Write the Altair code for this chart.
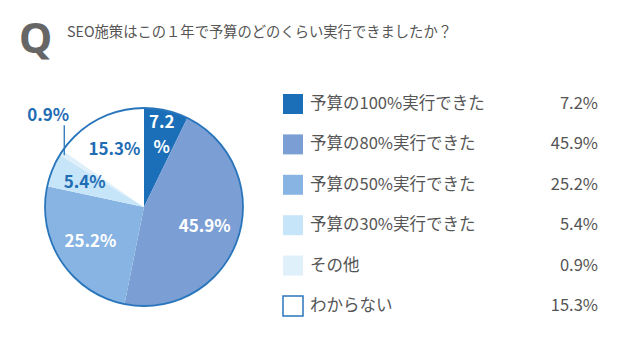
import altair as alt
import pandas as pd

categories = ["予算の100%実行できた", "予算の80%実行できた", "予算の50%実行できた",
              "予算の30%実行できた", "その他", "わからない"]
values = [7.2, 45.9, 25.2, 5.4, 0.9, 15.3]
value_labels = ["7.2%", "45.9%", "25.2%", "5.4%", "0.9%", "15.3%"]
pie_labels = ["7.2\n%", "45.9%", "25.2%", "5.4%", "", "15.3%"]
colors = ["#1A6FB8", "#7B9FD4", "#88B4E4", "#C7E5F8", "#DFF0FB", "#FFFFFF"]
label_colors = ["#FFFFFF", "#FFFFFF", "#FFFFFF", "#1F6DB4", "#1F6DB4", "#1F6DB4"]
title_text = "SEO施策はこの１年で予算のどのくらい実行できましたか？"

df = pd.DataFrame({
    "cat": categories, "value": values, "vlabel": value_labels,
    "plabel": pie_labels, "lcolor": label_colors, "order": list(range(6)),
})

FONT = "Noto Sans CJK JP"
CX, CY, R = 136, 199, 99
BLUE = "#2A76BC"
LEG_TOP, LEG_STEP = 96, 40.4

base = alt.Chart(df)
color_scale = alt.Scale(domain=categories, range=colors)

pie = base.mark_arc(outerRadius=R).encode(
    theta=alt.Theta("value:Q", stack=True),
    color=alt.Color("cat:N", scale=color_scale, legend=None),
    order=alt.Order("order:Q"),
    x=alt.value(CX), y=alt.value(CY),
)

ring = alt.Chart(pd.DataFrame({"a": [0]})).mark_arc(
    outerRadius=R, fillOpacity=0, stroke=BLUE, strokeWidth=1.8
).encode(theta=alt.value(0), theta2=alt.value(6.2832),
         x=alt.value(CX), y=alt.value(CY))

plabels = base.transform_calculate(
    t="datum.order == 0 ? '' : datum.plabel"
).mark_text(font=FONT, fontSize=17, fontWeight="bold", radius=64).encode(
    theta=alt.Theta("value:Q", stack=True),
    order=alt.Order("order:Q"),
    text="t:N",
    color=alt.Color("lcolor:N", scale=None),
    x=alt.value(CX), y=alt.value(CY),
)
plabel0 = base.transform_calculate(
    t="datum.order == 0 ? datum.plabel : ''"
).mark_text(font=FONT, fontSize=17, fontWeight="bold", lineBreak="\n",
            lineHeight=25, radius=70, dy=-16, dx=2).encode(
    theta=alt.Theta("value:Q", stack=True),
    order=alt.Order("order:Q"),
    text="t:N",
    color=alt.Color("lcolor:N", scale=None),
    x=alt.value(CX), y=alt.value(CY),
)

calc = base.transform_window(
    cum="sum(value)", sort=[alt.SortField("order")]
).transform_calculate(
    a="(datum.cum - datum.value/2) / 100 * 2 * PI",
).transform_calculate(
    px=f"{CX} + 95*sin(datum.a)",
    py=f"{CY} - 95*cos(datum.a)",
).transform_calculate(
    py2="datum.py - 30", tx="datum.px - 16", ty="datum.py - 33",
).transform_filter("datum.cat == 'その他'")

leader = calc.mark_rule(color=BLUE, strokeWidth=1.3).encode(
    x=alt.X("px:Q", scale=None), y=alt.Y("py:Q", scale=None), y2="py2:Q")
outlabel = calc.mark_text(font=FONT, fontSize=17, fontWeight="bold",
                          color="#1F6DB4", baseline="bottom", dy=3).encode(
    x=alt.X("tx:Q", scale=None), y=alt.Y("ty:Q", scale=None), text="vlabel:N")

leg = base.transform_calculate(ly=f"{LEG_TOP} + datum.order * {LEG_STEP}")
ly = alt.Y("ly:Q", scale=None)

squares = leg.mark_point(shape="square", size=400, filled=True, opacity=1,
                         strokeWidth=1.5).encode(
    x=alt.value(285), y=ly,
    fill=alt.Color("cat:N", scale=color_scale, legend=None),
    stroke=alt.condition("datum.cat == 'わからない'", alt.value(BLUE), alt.value("transparent")),
)
ltext = leg.mark_text(font=FONT, fontSize=16.5, align="left", color="#555555").encode(
    x=alt.value(302), y=ly, text="cat:N")
vtext = leg.mark_text(font=FONT, fontSize=16.5, align="right", color="#555555").encode(
    x=alt.value(590), y=ly, text="vlabel:N")

tdf = pd.DataFrame({"q": ["Q"], "t": [title_text]})
qmark = alt.Chart(tdf).mark_text(font="Noto Sans", fontSize=42, fontWeight="bold",
                                 color="#666666", align="left", baseline="alphabetic").encode(
    x=alt.value(11), y=alt.value(45), text="q:N")
tmark = alt.Chart(tdf).mark_text(font=FONT, fontSize=14.3, color="#555555",
                                 align="left", baseline="middle").encode(
    x=alt.value(59), y=alt.value(25), text="t:N")

chart = alt.layer(pie, ring, plabels, plabel0, leader, outlabel, squares, ltext, vtext,
                  qmark, tmark).properties(
    width=624, height=343, padding=0, autosize=alt.AutoSizeParams(type="none")
).configure_view(stroke=None)

chart.save("out.html", embed_options={"renderer": "svg", "actions": False})
